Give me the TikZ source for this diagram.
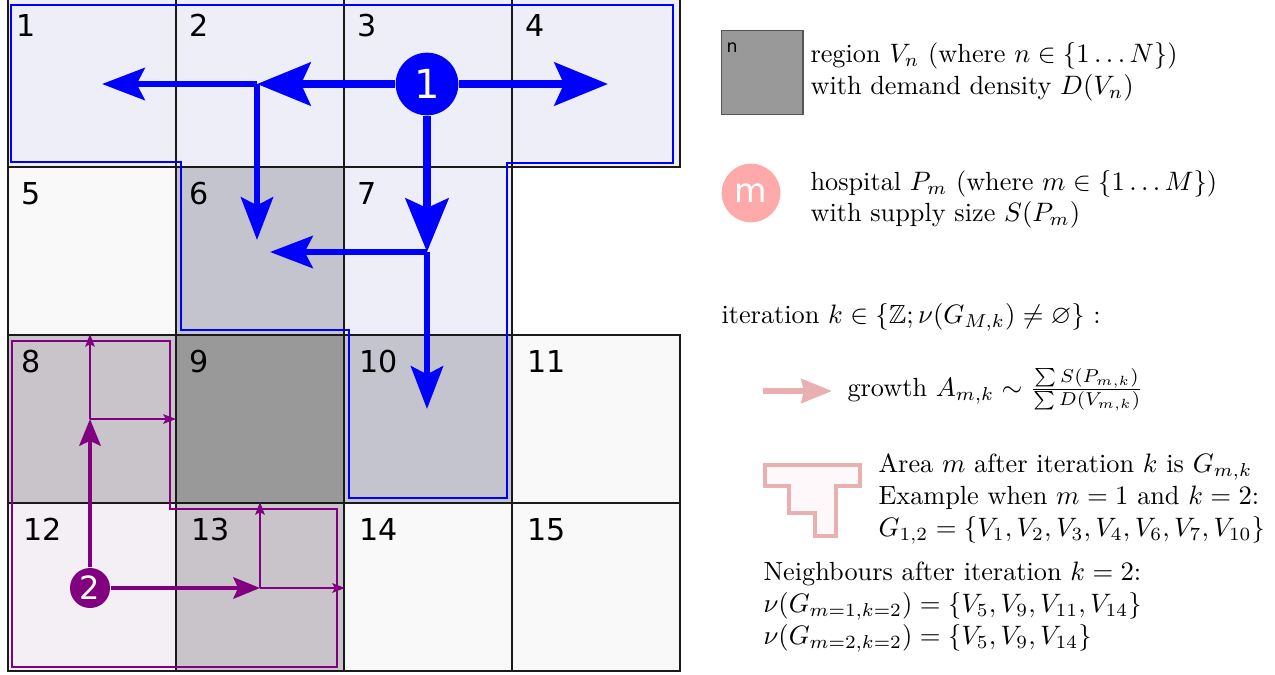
\documentclass[tikz,border=0pt]{standalone}
\usepackage{fontspec}
\usepackage{amsmath,amssymb}
\newfontfamily\numfont{DejaVu Sans}
\usetikzlibrary{arrows.meta}
\definecolor{lav}{HTML}{EEEEF8}
\definecolor{wht}{HTML}{F9F9F9}
\definecolor{gblue}{HTML}{C4C4CE}
\definecolor{gpur}{HTML}{C8C4CA}
\definecolor{dgray}{HTML}{999999}
\definecolor{lpur}{HTML}{F3EFF4}
\definecolor{hblue}{HTML}{0000FF}
\definecolor{hpur}{HTML}{800080}
\definecolor{pinkc}{HTML}{FFAAAA}
\definecolor{pinkl}{HTML}{E8B0B0}
\definecolor{pinkf}{HTML}{FFF8FA}
\definecolor{gridc}{HTML}{1A1A1A}
\definecolor{sqline}{HTML}{555555}
\begin{document}
\begin{tikzpicture}[x=0.375pt,y=-0.375pt,
  cellbox/.style={draw=gridc,line width=0.75pt},
  celllabel/.style={anchor=base west,inner sep=0pt,font=\numfont\fontsize{11.3}{13}\selectfont},
  bluebig/.style={draw=hblue,line width=3.2pt,-{Stealth[length=20pt,width=16pt,inset=3.5pt]}},
  bluesmall/.style={draw=hblue,line width=2.4pt,-{Stealth[length=16pt,width=12pt,inset=3pt]}},
  purmain/.style={draw=hpur,line width=1.5pt,-{Stealth[length=10pt,width=8pt,inset=1.8pt]}},
  purthin/.style={draw=hpur,line width=0.6pt,-{Stealth[length=4.8pt,width=3.6pt,inset=1pt]}},
  legtext/.style={anchor=base west,inner sep=0pt,font=\fontsize{9.85}{12}\selectfont},
  hosp/.style={circle,inner sep=0pt,text=white},
]
\useasboundingbox (0,0) rectangle (1275,674);
\fill[white] (0,0) rectangle (1275,674);

% grid cells
\foreach \n/\c/\r/\clr/\dx in {1/0/0/lav/8,2/1/0/lav/13,3/2/0/lav/13,4/3/0/lav/13,
  5/0/1/wht/13,6/1/1/gblue/13,7/2/1/lav/13,
  8/0/2/gpur/13,9/1/2/dgray/13,10/2/2/gblue/15,11/3/2/wht/15,
  12/0/3/lpur/15,13/1/3/gpur/15,14/2/3/wht/15,15/3/3/wht/15}{
  \path[cellbox,fill=\clr] ({8+168*\c},{-1+168*\r}) rectangle ++(168,168);
  \node[celllabel] (n\n) at ({8+\dx+168*\c},{36+168*\r}) {\n};
}

% regions
\draw[hblue,line width=0.6pt] (11,5) -- (673,5) -- (673,163) -- (507,163) -- (507,498)
  -- (349,498) -- (349,330) -- (181,330) -- (181,162) -- (11,162) -- cycle;
\draw[hpur,line width=0.6pt] (12,341) -- (170,341) -- (170,509) -- (337,509)
  -- (337,667) -- (12,667) -- cycle;

% hospitals
\node[hosp,fill=hblue,minimum size=23.5pt,font=\numfont\fontsize{15}{17}\selectfont] (h1) at (427,84) {1};
\node[hosp,fill=hpur,minimum size=15pt,font=\numfont\fontsize{12}{14}\selectfont] (h2) at (90,588) {2};

% blue growth arrows
\coordinate (jA) at (257,84);
\coordinate (t1) at (102,84);
\coordinate (t6) at (257,240);
\coordinate (t4) at (608,84);
\coordinate (jB) at (427,252);
\coordinate (t6b) at (270,252);
\coordinate (t10) at (427,409);
\draw[bluesmall] (jA) -- (t1);
\draw[bluesmall] (jA) -- (t6);
\draw[bluesmall] (jB) -- (t6b);
\draw[bluesmall] (jB) -- (t10);
\draw[bluebig] (h1) -- (jA);
\draw[bluebig] (h1) -- (t4);
\draw[bluebig] (h1) -- (jB);

% purple growth arrows
\coordinate (jC) at (90,419);
\coordinate (tC1) at (90,334);
\coordinate (tC2) at (176,419);
\coordinate (jD) at (260,588);
\coordinate (tD1) at (260,502);
\coordinate (tD2) at (345,588);
\draw[purthin] (jC) -- (tC1);
\draw[purthin] (jC) -- (tC2);
\draw[purthin] (jD) -- (tD1);
\draw[purthin] (jD) -- (tD2);
\draw[purmain] (h2) -- (jC);
\draw[purmain] (h2) -- (jD);

% legend: region
\node[draw=sqline,line width=0.5pt,fill=dgray,anchor=north west,minimum width=30.5pt,minimum height=31.5pt,inner sep=0pt] (sq) at (721,30) {};
\node[anchor=base west,inner sep=0pt,font=\numfont\fontsize{6.5}{8}\selectfont] (sqn) at (726,52) {n};
\node[legtext] (r1) at (810,62) {region $V_n$ (where $n\in\{1\ldots N\}$)};
\node[legtext] (r2) at (810,94) {with demand density $D(V_n)$};

% legend: hospital
\node[hosp,fill=pinkc,minimum size=22pt,font=\numfont\fontsize{12.5}{14}\selectfont] (hm) at (751,193) {m};
\node[legtext] (p1) at (810,190) {hospital $P_m$ (where $m\in\{1\ldots M\}$)};
\node[legtext] (p2) at (810,221) {with supply size $S(P_m)$};

% legend: iteration
\node[legtext] (it) at (721,323) {iteration $k\in\{\mathbb{Z};\nu(G_{M,k})\neq\varnothing\}$ :};

% legend: growth arrow
\coordinate (pa) at (763,391);
\coordinate (pb) at (832,391);
\draw[pinkl,line width=1.9pt,-{Stealth[length=11.5pt,width=9pt,inset=1pt]}] (pa) -- (pb);
\node[legtext] (gr) at (847,396) {growth $A_{m,k}\sim\frac{\sum S(P_{m,k})}{\sum D(V_{m,k})}$};

% legend: area shape
\draw[pinkl,line width=1.5pt,fill=pinkf] (765,465) -- (860,465) -- (860,486) -- (836,486)
  -- (836,536) -- (815,536) -- (815,513) -- (789,513) -- (789,486) -- (765,486) -- cycle;
\node[legtext] (a1) at (878,472) {Area $m$ after iteration $k$ is $G_{m,k}$};
\node[legtext] (a2) at (878,504) {Example when $m=1$ and $k=2$:};
\node[legtext] (a3) at (878,536) {$G_{1,2}=\{V_1,V_2,V_3,V_4,V_6,V_7,V_{10}\}$};

% legend: neighbours
\node[legtext] (nb1) at (763,580) {Neighbours after iteration $k=2$:};
\node[legtext] (nb2) at (763,612) {$\nu(G_{m=1,k=2})=\{V_5,V_9,V_{11},V_{14}\}$};
\node[legtext] (nb3) at (763,644) {$\nu(G_{m=2,k=2})=\{V_5,V_9,V_{14}\}$};
\end{tikzpicture}
\end{document}
